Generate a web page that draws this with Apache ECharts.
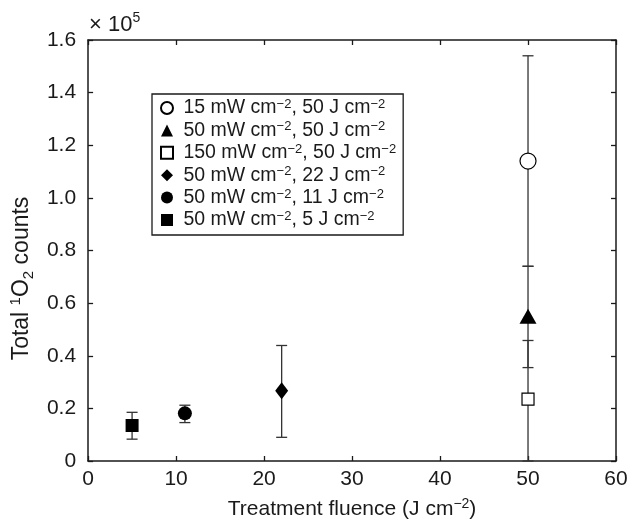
<!DOCTYPE html>
<html>
<head>
<meta charset="utf-8">
<script src="https://cdn.jsdelivr.net/npm/echarts@6/dist/echarts.min.js"></script>
<style>
  html, body { margin: 0; padding: 0; background: #fff; }
  #chart { width: 640px; height: 526px; }
</style>
</head>
<body>
<div id="chart"></div>
<script>
  // one entry per condition (legend order)
  var labels = [
    '15 mW cm−2, 50 J cm−2',
    '50 mW cm−2, 50 J cm−2',
    '150 mW cm−2, 50 J cm−2',
    '50 mW cm−2, 22 J cm−2',
    '50 mW cm−2, 11 J cm−2',
    '50 mW cm−2, 5 J cm−2'
  ]
  var fluence = [50, 50, 50, 22, 11, 5]
  var counts = [1.14, 0.55, 0.235, 0.267, 0.181, 0.135]   // x 10^5
  var errLow = [0.74, 0.355, 0, 0.09, 0.146, 0.083]
  var errHigh = [1.54, 0.74, 0.458, 0.439, 0.212, 0.185]
  var xTicks = [0, 10, 20, 30, 40, 50, 60]
  var yTicks = [0, 0.2, 0.4, 0.6, 0.8, 1.0, 1.2, 1.4, 1.6]

  var symbols = ['circle', 'triangle', 'rect', 'diamond', 'circle', 'rect']
  var sizes = [16, [17, 15], 12, [13, 17], 14, 13]
  var filled = [false, true, false, true, true, true]

  var font = 'Liberation Sans, Arial, Helvetica, sans-serif'
  var ink = '#1a1a1a'

  var chart = echarts.init(document.getElementById('chart'))

  var axisCommon = {
    type: 'value',
    axisLine: {show: true, onZero: false, lineStyle: {color: ink, width: 1.5}},
    axisTick: {show: true, inside: true, length: 5, lineStyle: {color: ink, width: 1.3}},
    splitLine: {show: false}
  }

  var series = []
  // error bars first so markers sit on top
  series.push({
    type: 'custom',
    name: 'err',
    xAxisIndex: 0,
    yAxisIndex: 0,
    z: 1,
    silent: true,
    data: fluence.map(function (f, i) { return [f, errLow[i], errHigh[i]] }),
    renderItem: function (params, api) {
      var x = api.value(0)
      var top = api.coord([x, api.value(2)])
      var bot = api.coord([x, api.value(1)])
      var w = 5.5
      var st = {stroke: '#333', lineWidth: 1.3}
      return {
        type: 'group',
        children: [
          {type: 'line', shape: {x1: top[0], y1: top[1], x2: bot[0], y2: bot[1]}, style: st},
          {type: 'line', shape: {x1: top[0] - w, y1: top[1], x2: top[0] + w, y2: top[1]}, style: st},
          {type: 'line', shape: {x1: bot[0] - w, y1: bot[1], x2: bot[0] + w, y2: bot[1]}, style: st}
        ]
      }
    }
  })
  labels.forEach(function (name, i) {
    series.push({
      type: 'scatter',
      name: name,
      xAxisIndex: 0,
      yAxisIndex: 0,
      z: 3,
      symbol: symbols[i],
      symbolSize: sizes[i],
      itemStyle: {
        color: filled[i] ? '#000' : '#fff',
        borderColor: '#000',
        borderWidth: filled[i] ? 0 : 1.2,
        opacity: 1
      },
      data: [[fluence[i], counts[i]]]
    })
  })

  chart.setOption({
    animation: false,
    backgroundColor: '#fff',
    grid: {left: 86, right: 24, top: 40, bottom: 62},
    title: {
      text: '× 10{sup|5}',
      left: 84,
      top: 6,
      textStyle: {
        fontFamily: font, fontSize: 22, fontWeight: 'normal', color: ink, lineHeight: 28,
        rich: {sup: {fontFamily: font, fontSize: 14, verticalAlign: 'top', color: ink, lineHeight: 28}}
      }
    },
    legend: {
      data: labels,
      orient: 'vertical',
      left: 152,
      top: 94,
      padding: [4, 7, 5, 8],
      itemGap: 2.4,
      itemWidth: 12,
      itemHeight: 12,
      backgroundColor: '#fff',
      borderColor: ink,
      borderWidth: 1.3,
      selectedMode: false,
      formatter: function (name) { return ' ' + name.replace(/−2/g, '{sup|−2}') },
      textStyle: {
        fontFamily: font, fontSize: 19.5, color: ink, lineHeight: 20,
        rich: {sup: {fontFamily: font, fontSize: 13, color: ink, verticalAlign: 'top', lineHeight: 20}}
      }
    },
    xAxis: [
      Object.assign({}, axisCommon, {
        position: 'bottom',
        min: xTicks[0], max: xTicks[xTicks.length - 1], interval: 10,
        name: 'Treatment fluence (J cm{sup|−2})',
        nameLocation: 'middle',
        nameGap: 36,
        nameTextStyle: {
          fontFamily: font, fontSize: 21, color: ink, lineHeight: 24,
          rich: {sup: {fontFamily: font, fontSize: 14, color: ink, verticalAlign: 'top', lineHeight: 24}}
        },
        axisLabel: {fontFamily: font, fontSize: 21, color: ink, margin: 8}
      }),
      Object.assign({}, axisCommon, {
        position: 'top',
        min: xTicks[0], max: xTicks[xTicks.length - 1], interval: 10,
        axisLabel: {show: false}
      })
    ],
    yAxis: [
      Object.assign({}, axisCommon, {
        position: 'left',
        min: yTicks[0], max: yTicks[yTicks.length - 1], interval: 0.2,
        name: 'Total {sup|1}O{sub|2} counts',
        nameLocation: 'middle',
        nameGap: 43,
        nameTextStyle: {
          fontFamily: font, fontSize: 23, color: ink, lineHeight: 28,
          padding: [0, 56, 0, 0],
          rich: {
            sup: {fontFamily: font, fontSize: 15, color: ink, verticalAlign: 'top', lineHeight: 28},
            sub: {fontFamily: font, fontSize: 15, color: ink, verticalAlign: 'bottom', lineHeight: 28}
          }
        },
        axisLabel: {
          fontFamily: font, fontSize: 21, color: ink, margin: 12,
          formatter: function (v) { return v === 0 ? '0' : v.toFixed(1) }
        }
      }),
      Object.assign({}, axisCommon, {
        position: 'right',
        min: yTicks[0], max: yTicks[yTicks.length - 1], interval: 0.2,
        axisLabel: {show: false}
      })
    ],
    series: series
  })
</script>
</body>
</html>
